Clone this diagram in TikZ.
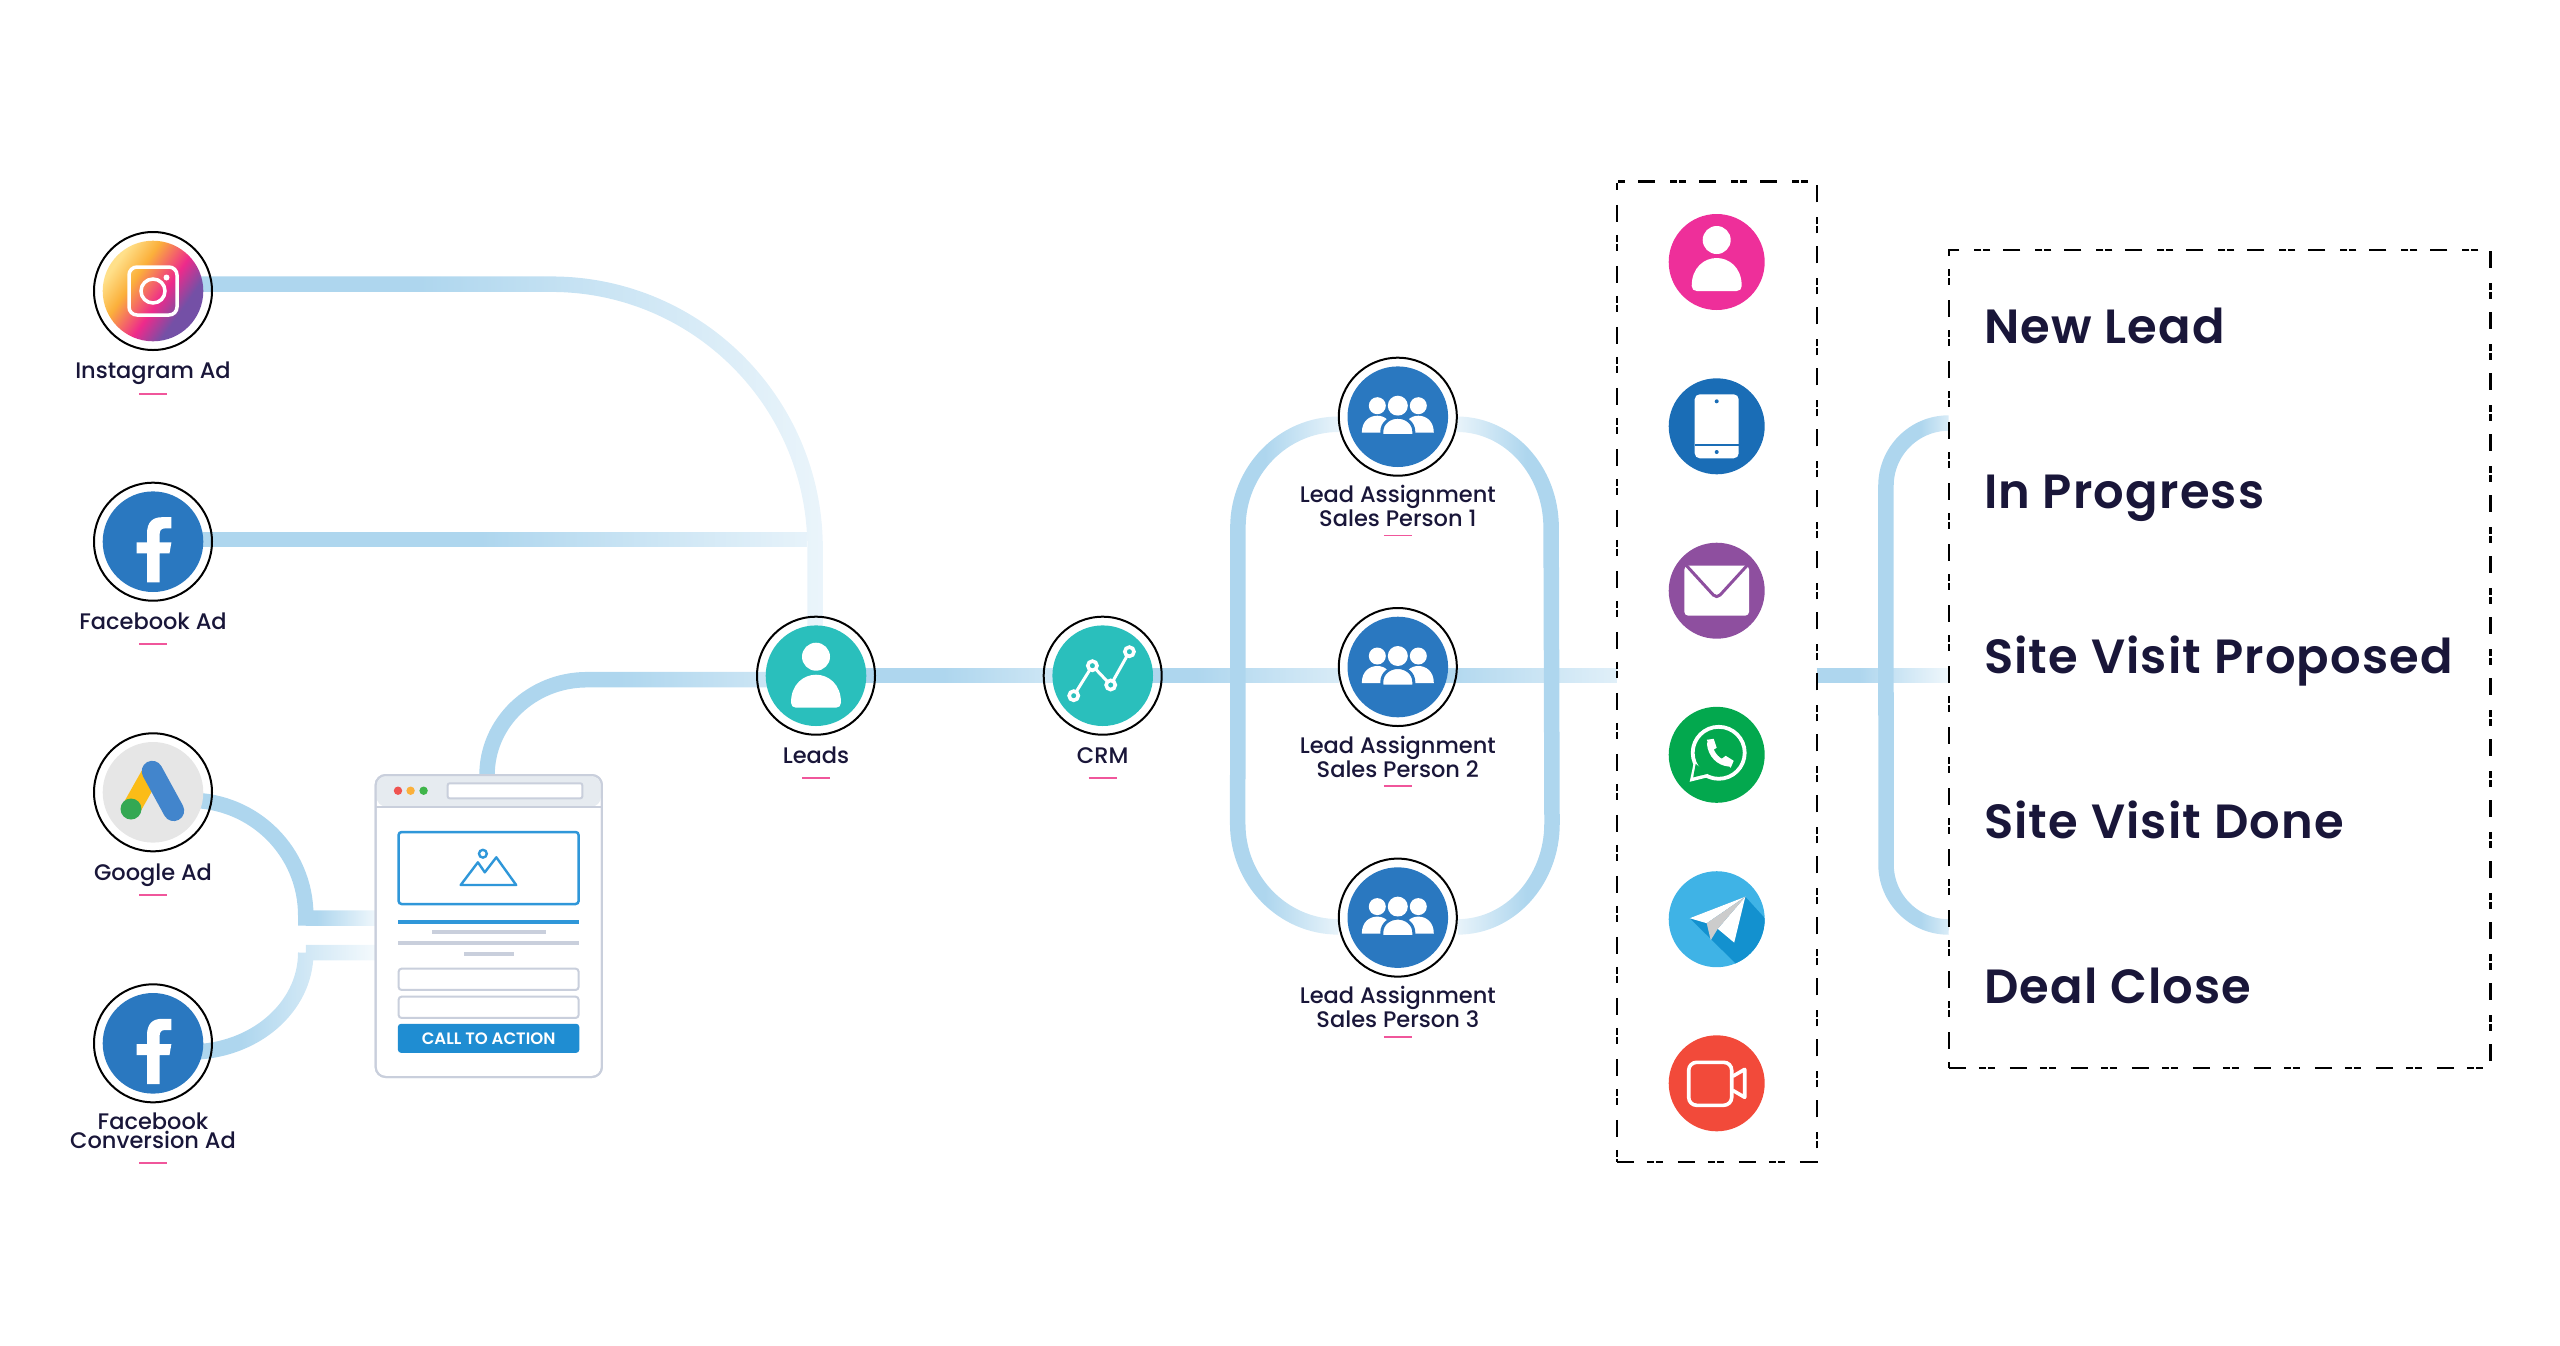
\documentclass[tikz,border=0pt]{standalone}
\usepackage{fontspec}
\setmainfont{Poppins Medium}
\newfontfamily\semifont{Poppins SemiBold}[LetterSpace=2.5]
\newfontfamily\btnfont{Poppins SemiBold}
\usetikzlibrary{fadings,shapes.geometric,calc}
\pgfdeclarelayer{bands}
\pgfsetlayers{bands,main}
\definecolor{bar}{HTML}{AED6EE}
\definecolor{ink}{HTML}{191639}
\definecolor{pinkl}{HTML}{F0569B}
\definecolor{teal1}{HTML}{2ABFBC}
\definecolor{fbblue}{HTML}{2A78C0}
\definecolor{frame}{HTML}{C9CFDC}
\definecolor{linkb}{HTML}{2F97D9}
\definecolor{btn}{HTML}{1F8DD2}
\definecolor{ipurple}{HTML}{8E4F9F}
\definecolor{iblue}{HTML}{1A6DB6}
\definecolor{igreen}{HTML}{03A84E}
\definecolor{itele}{HTML}{3FB3E6}
\definecolor{ishade}{HTML}{1391CF}
\definecolor{ired}{HTML}{F24A3A}
\definecolor{ipink}{HTML}{EE2F9A}
\definecolor{insA}{HTML}{FFE08A}
\definecolor{insB}{HTML}{FBB03B}
\definecolor{insC}{HTML}{EE2A8B}
\definecolor{insD}{HTML}{7450A6}
\definecolor{gyellow}{HTML}{FBBC17}
\definecolor{ggreen}{HTML}{34A853}
\definecolor{gblue}{HTML}{4285CC}
\definecolor{ggrey}{HTML}{E6E6E6}
\definecolor{chrome}{HTML}{E6EBF0}
\definecolor{dotr}{HTML}{EF5350}
\definecolor{doto}{HTML}{FBB03B}
\definecolor{dotg}{HTML}{3FB54A}
\pgfdeclarehorizontalshading{insta}{100bp}{color(0bp)=(insA);color(27bp)=(insA);color(39bp)=(insB);color(55bp)=(insC);color(67bp)=(insD);color(100bp)=(insD)}
% fadings: the path's bounding box covers 37.5bp to 62.5bp of the shading
\newcommand{\mkfade}[3]{%
  \pgfdeclarehorizontalshading{#1s}{100bp}{color(0bp)=(transparent!0);color(#2bp)=(transparent!0);color(62.5bp)=(transparent!#3);color(100bp)=(transparent!#3)}%
  \begin{tikzfadingfrompicture}[name=#1]\shade[shading=#1s](-50bp,-50bp)rectangle(50bp,50bp);\end{tikzfadingfrompicture}}
\newcommand{\mkfadeR}[3]{%
  \pgfdeclarehorizontalshading{#1s}{100bp}{color(0bp)=(transparent!#3);color(37.5bp)=(transparent!#3);color(#2bp)=(transparent!0);color(100bp)=(transparent!0)}%
  \begin{tikzfadingfrompicture}[name=#1]\shade[shading=#1s](-50bp,-50bp)rectangle(50bp,50bp);\end{tikzfadingfrompicture}}
\mkfade{fInsta}{47.5}{75}
\mkfade{fFace}{50}{72}
\mkfade{fGoogle}{55.5}{92}
\mkfade{fConv}{47.5}{92}
\mkfade{fBrowser}{47.5}{50}
\mkfade{fLeads}{48.7}{60}
\mkfade{fCrm}{47.5}{55}
\mkfade{fPtwo}{42.5}{65}
\mkfade{fLoopL}{45}{80}
\mkfadeR{fLoopR}{55}{80}
\mkfade{fMid}{46}{88}
\mkfade{fBrack}{51}{70}
\tikzset{
  band/.style={draw=bar,line width=15.5pt,line cap=butt,line join=miter},
  ringn/.style={circle,draw=black,line width=2pt,minimum size=118pt,inner sep=0pt,outer sep=0pt},
  disc/.style={circle,minimum size=100.6pt,inner sep=0pt,outer sep=0pt},
  cdisc/.style={circle,minimum size=96pt,inner sep=0pt,outer sep=0pt},
  lbl/.style={text=ink,font=\fontsize{22.5}{19.3}\selectfont,inner sep=0pt,outer sep=0pt,anchor=base,align=center},
  ulin/.style={draw=pinkl,line width=1.6pt},
  dashbox/.style={rectangle,draw=black,line width=2.2pt,inner sep=0pt,outer sep=0pt,dash pattern=on 17pt off 13pt on 7pt off 2pt on 7pt off 15pt},
  stage/.style={text=ink,font=\semifont\fontsize{48}{48}\selectfont,inner sep=0pt,outer sep=0pt,anchor=base west},
  frm/.style={rectangle,draw=frame,line width=2pt,inner sep=0pt,outer sep=0pt},
}
\newcommand{\hub}[4]{\node[ringn] (#1) at (#2,#3) {};\node[disc,fill=#4] (#1d) at (#2,#3) {};}
\newcommand{\ul}[2]{\draw[ulin] (#1-14,#2) -- (#1+14,#2);}
\newcommand{\personic}[3]{\begin{scope}[shift={(#1)},yshift=-#3pt]
  \fill[white] (0,-19) circle[radius=14];
  \fill[white] (-25,27) .. controls (-25,8) and (-12,-1) .. (0,-1) .. controls (12,-1) and (25,8) .. (25,27) .. controls (25,30) and (23,32) .. (20,32) -- (-20,32) .. controls (-23,32) and (-25,30) .. (-25,27) -- cycle;
\end{scope}}
\newcommand{\fbic}[1]{\begin{scope}[shift={(#1)}]
  \fill[white] (-6,40.7) -- (-6,11.7) -- (-16.3,11.7) -- (-16.3,0.7) -- (-6,0.7) -- (-6,-8) .. controls (-6,-20) and (0,-24.5) .. (9,-24.5) -- (18.4,-24.5) -- (18.4,-13.3) -- (12,-13.3) .. controls (8,-13.3) and (6.6,-11) .. (6.6,-7) -- (6.6,0.7) -- (18.4,0.7) -- (16.5,11.7) -- (6.6,11.7) -- (6.6,40.7) -- cycle;
\end{scope}}
\newcommand{\teamic}[1]{\begin{scope}[shift={(#1)}]
  \fill[white] (-20.5,-11) circle[radius=8.5];
  \fill[white] (20.5,-11) circle[radius=8.5];
  \fill[white] (-36,16) .. controls (-36,4) and (-28,-1) .. (-20.5,-1) .. controls (-13,-1) and (-6,4) .. (-6,16) -- cycle;
  \fill[white] (36,16) .. controls (36,4) and (28,-1) .. (20.5,-1) .. controls (13,-1) and (6,4) .. (6,16) -- cycle;
  \fill[white] (0,-11) circle[radius=10];
  \filldraw[fill=white,draw=fbblue,line width=3pt] (-16,19) -- (-16,15) .. controls (-16,6) and (-8,0.5) .. (0,0.5) .. controls (8,0.5) and (16,6) .. (16,15) -- (16,19) -- cycle;
\end{scope}}
\begin{document}
\begin{tikzpicture}[x=1pt,y=-1pt]
\useasboundingbox (0,0) rectangle (2560,1345);
% --- hubs
\node[ringn] (insta) at (153,291) {};
\node[disc,shade,shading=insta,shading angle=-35] (instad) at (153,291) {};
\hub{fb}{153}{541.7}{fbblue}
\hub{google}{153}{792.3}{ggrey}
\hub{conv}{153}{1043.3}{fbblue}
\hub{leads}{816}{675.7}{teal1}
\hub{crm}{1102.7}{675.7}{teal1}
\hub{pone}{1397.8}{416.7}{fbblue}
\hub{ptwo}{1397.8}{667}{fbblue}
\hub{pthree}{1397.8}{917.6}{fbblue}
% --- boxes
\node[dashbox,minimum width=199.7pt,minimum height=980.2pt] (channels) at (1716.8,671.6) {};
\node[dashbox,minimum width=541.7pt,minimum height=818.3pt] (stages) at (2219.6,659) {};
\node[frm,fill=white,rounded corners=10pt,minimum width=226.3pt,minimum height=302pt] (browser) at (488.8,926) {};
% --- connectors
\begin{pgfonlayer}{bands}
\draw[band,path fading=fInsta] ([yshift=7pt]insta.center) -- (552,284) arc[start angle=270,end angle=360,radius=264] -- (leads.center);
\coordinate (fbjoin) at (808,539.7);
\draw[band,path fading=fFace] ([yshift=2pt]fb.center) -- (fbjoin);
\draw[band,path fading=fGoogle] ([yshift=-8pt]google.center) -- (190,800.3) arc[start angle=270,end angle=360,x radius=115.7,y radius=115] -- (305.7,925.7) (305.7,918) -- (browser.west |- 0,918);
\draw[band,path fading=fConv] ([yshift=-8.7pt]conv.center) -- (190,1052) arc[start angle=90,end angle=0,x radius=115.7,y radius=99.3] (305.7,952.7) -- (browser.west |- 0,952.7);
\draw[band,path fading=fBrowser] (browser.north -| 487,0) arc[start angle=180,end angle=270,x radius=100,y radius=95.3] -- (leads.center |- 0,679.7);
\draw[band,path fading=fLeads] (leads.center) -- (crm.center);
\draw[band,path fading=fCrm] (crm.center) -- (ptwo.west |- crm.center);
\draw[band,path fading=fPtwo] (ptwo.center |- crm.center) -- (channels.west |- crm.center);
\draw[band,path fading=fLoopL] (pone.west |- 0,424) arc[start angle=270,end angle=180,x radius=100.9,y radius=103.3] -- (1237.7,823.5) arc[start angle=180,end angle=90,x radius=100.9,y radius=103.3];
\draw[band,path fading=fLoopR] (pone.east |- 0,424) arc[start angle=270,end angle=360,x radius=94.3,y radius=103.3] -- (1552,823.5) arc[start angle=0,end angle=90,x radius=94.3,y radius=103.3];
\draw[band,path fading=fMid] (channels.east |- crm.center) -- (stages.west |- crm.center);
\draw[band,path fading=fBrack] (stages.west |- 0,423) arc[start angle=270,end angle=180,radius=62.8] -- (1886,864.2) arc[start angle=180,end angle=90,radius=62.8];
\end{pgfonlayer}
% --- instagram glyph
\begin{scope}[shift={(instad)}]
  \draw[white,line width=3.5pt,rounded corners=8pt] (-24,-24) rectangle (24,24);
  \draw[white,line width=3.5pt] (0,0) circle[radius=12];
  \fill[white] (13.5,-13.5) circle[radius=3];
\end{scope}
\fbic{fbd}
\fbic{convd}
% --- google glyph
\begin{scope}[shift={(googled)}]
  \draw[color=gyellow,line width=19pt] (-22,16.7) -- (-3,-17);
  \fill[ggreen] (-22,16.7) circle[radius=10.5];
  \draw[color=gblue,line width=21pt,line cap=round] (-0.8,-21) -- (20.7,18.3);
\end{scope}
\personic{leadsd}{0}{0}
% --- crm glyph
\begin{scope}[shift={(crmd)}]
  \draw[white,line width=3pt] (-29,20) -- (-10.3,-10) -- (8,9.3) -- (26.7,-24);
  \foreach \px/\py in {-29/20,-10.3/-10,8/9.3,26.7/-24}
    \draw[white,fill=teal1,line width=3.6pt] (\px,\py) circle[radius=4.6];
\end{scope}
\teamic{poned}
\teamic{ptwod}
\teamic{pthreed}
% --- browser mock
\fill[chrome,rounded corners=10pt] (376.5,776) rectangle (601,806.7);
\draw[frame,line width=2pt] (376,806.7) -- (602,806.7);
\draw[frm,rounded corners=10pt] (browser.south west) rectangle (browser.north east);
\fill[dotr] (398,790.7) circle[radius=4.2];
\fill[doto] (410.6,790.7) circle[radius=4.2];
\fill[dotg] (423.6,790.7) circle[radius=4.2];
\node[frm,fill=white,rounded corners=2pt,minimum width=134.7pt,minimum height=15pt] (addr) at (515,790.8) {};
\node[rectangle,draw=linkb,line width=2.5pt,rounded corners=3pt,minimum width=180pt,minimum height=72pt,inner sep=0pt] (imgbox) at (488.6,868) {};
\draw[linkb,line width=2.4pt] (482.9,853.7) circle[radius=3.9];
\draw[linkb,line width=2.4pt,line join=round] (460.7,885) -- (477.9,862.3) -- (484.8,872.3) -- (496.3,857.3) -- (516.2,885) -- cycle;
\fill[linkb] (398,919.7) rectangle (579.3,924);
\fill[frame] (432,930) rectangle (545.7,934.3);
\fill[frame] (398,941) rectangle (579.3,945);
\fill[frame] (463.7,951.7) rectangle (513.5,955.7);
\node[frm,fill=white,rounded corners=3pt,minimum width=180pt,minimum height=21.3pt] (inputa) at (488.6,979.3) {};
\node[frm,fill=white,rounded corners=3pt,minimum width=180pt,minimum height=21.3pt] (inputb) at (488.6,1007.3) {};
\node[rectangle,fill=btn,rounded corners=3pt,minimum width=181.3pt,minimum height=29pt,inner sep=0pt,text=white,font=\btnfont\fontsize{16.5}{16.5}\selectfont] (cta) at (488.6,1038.3) {CALL TO ACTION};
% --- channel icons
\node[cdisc,fill=ipink] (cperson) at (1716.7,262) {};
\node[cdisc,fill=iblue] (ctablet) at (1716.7,426.3) {};
\node[cdisc,fill=ipurple] (cmail) at (1716.7,590.7) {};
\node[cdisc,fill=igreen] (cwa) at (1716.7,754.8) {};
\node[cdisc,fill=itele] (ctele) at (1716.7,919.2) {};
\node[cdisc,fill=ired] (cvideo) at (1716.7,1083.3) {};
\personic{cperson}{0}{-3}
\begin{scope}[shift={(ctablet)}]
  \fill[white,rounded corners=5pt] (-22,-32) rectangle (22,32);
  \draw[iblue,line width=2pt] (-22,19) -- (22,19);
  \fill[iblue] (0,-25) circle[radius=2];
  \fill[iblue] (0,25.7) circle[radius=2];
\end{scope}
\begin{scope}[shift={(cmail)}]
  \fill[white,rounded corners=4pt] (-32.4,-25) rectangle (32.4,25);
  \draw[ipurple,line width=3pt,rounded corners=5pt] (-32,-27) -- (0,8) -- (32,-27);
\end{scope}
\begin{scope}[shift={(cwa)}]
  \fill[white] (-23,8) -- (-27,27) -- (-7,22) -- cycle;
  \draw[white,fill=igreen,line width=3.8pt] (2,-2) circle[radius=26];
  \fill[igreen] (-21,9) -- (-23.5,22.5) -- (-9,19) -- cycle;
  \draw[white,line width=5.5pt,line cap=round] (-7,-11) .. controls (-6,0) and (2,8) .. (12,9);
  \fill[white] (-10,-15) -- (-3,-16) -- (0,-7) -- (-5,-4) -- cycle;
  \fill[white] (5,4) -- (9,1) -- (17,6) -- (14,13) -- cycle;
\end{scope}
\begin{scope}[shift={(ctele)}]
  \clip (0,0) circle[radius=48];
  \fill[ishade] (-27,-1) -- (28.6,-22.5) -- (60,12) -- (50,60) -- (18.7,44) -- cycle;
  \fill[white] (28.6,-22.5) -- (-27,-1) -- (-10,4) -- cycle;
  \fill[white] (28.6,-22.5) -- (17.5,23.4) -- (1,9.6) -- cycle;
  \fill[black!20] (28.6,-22.5) -- (-10,4) -- (-6,21) -- (1,9.6) -- cycle;
\end{scope}
\begin{scope}[shift={(cvideo)}]
  \draw[white,line width=3.6pt,rounded corners=8pt] (-28,-21) rectangle (15,22);
  \draw[white,line width=3.6pt,line join=round] (16,-7) -- (28,-14) -- (28,14) -- (16,7);
\end{scope}
% --- labels (for two-line labels the anchor is the last line's baseline)
\node[lbl] (tinsta) at (153,378.3) {Instagram Ad};
\ul{153}{393.7}
\node[lbl] (tfb) at (153,629) {Facebook Ad};
\ul{153}{644}
\node[lbl] (tgoogle) at (153,880) {Google Ad};
\ul{153}{895}
\node[lbl,font=\fontsize{22.5}{15.3}\selectfont] (tconv) at (153,1148) {Facebook\\Conversion Ad};
\ul{153}{1162.7}
\node[lbl] (tleads) at (816,763) {Leads};
\ul{816}{778}
\node[lbl] (tcrm) at (1102.7,763) {CRM};
\ul{1102.7}{778}
\node[lbl] (tpone) at (1397.8,526) {Lead Assignment\\Sales Person 1};
\ul{1397.8}{535.4}
\node[lbl] (tptwo) at (1397.8,777.3) {Lead Assignment\\Sales Person 2};
\ul{1397.8}{786}
\node[lbl] (tpthree) at (1397.8,1027.7) {Lead Assignment\\Sales Person 3};
\ul{1397.8}{1036.8}
% --- stages
\node[stage] (snew) at (1984,343.5) {New Lead};
\node[stage] (sprog) at (1984,508.3) {In Progress};
\node[stage] (sprop) at (1984,673) {Site Visit Proposed};
\node[stage] (sdone) at (1984,838) {Site Visit Done};
\node[stage] (sclose) at (1984,1003) {Deal Close};
\end{tikzpicture}
\end{document}
